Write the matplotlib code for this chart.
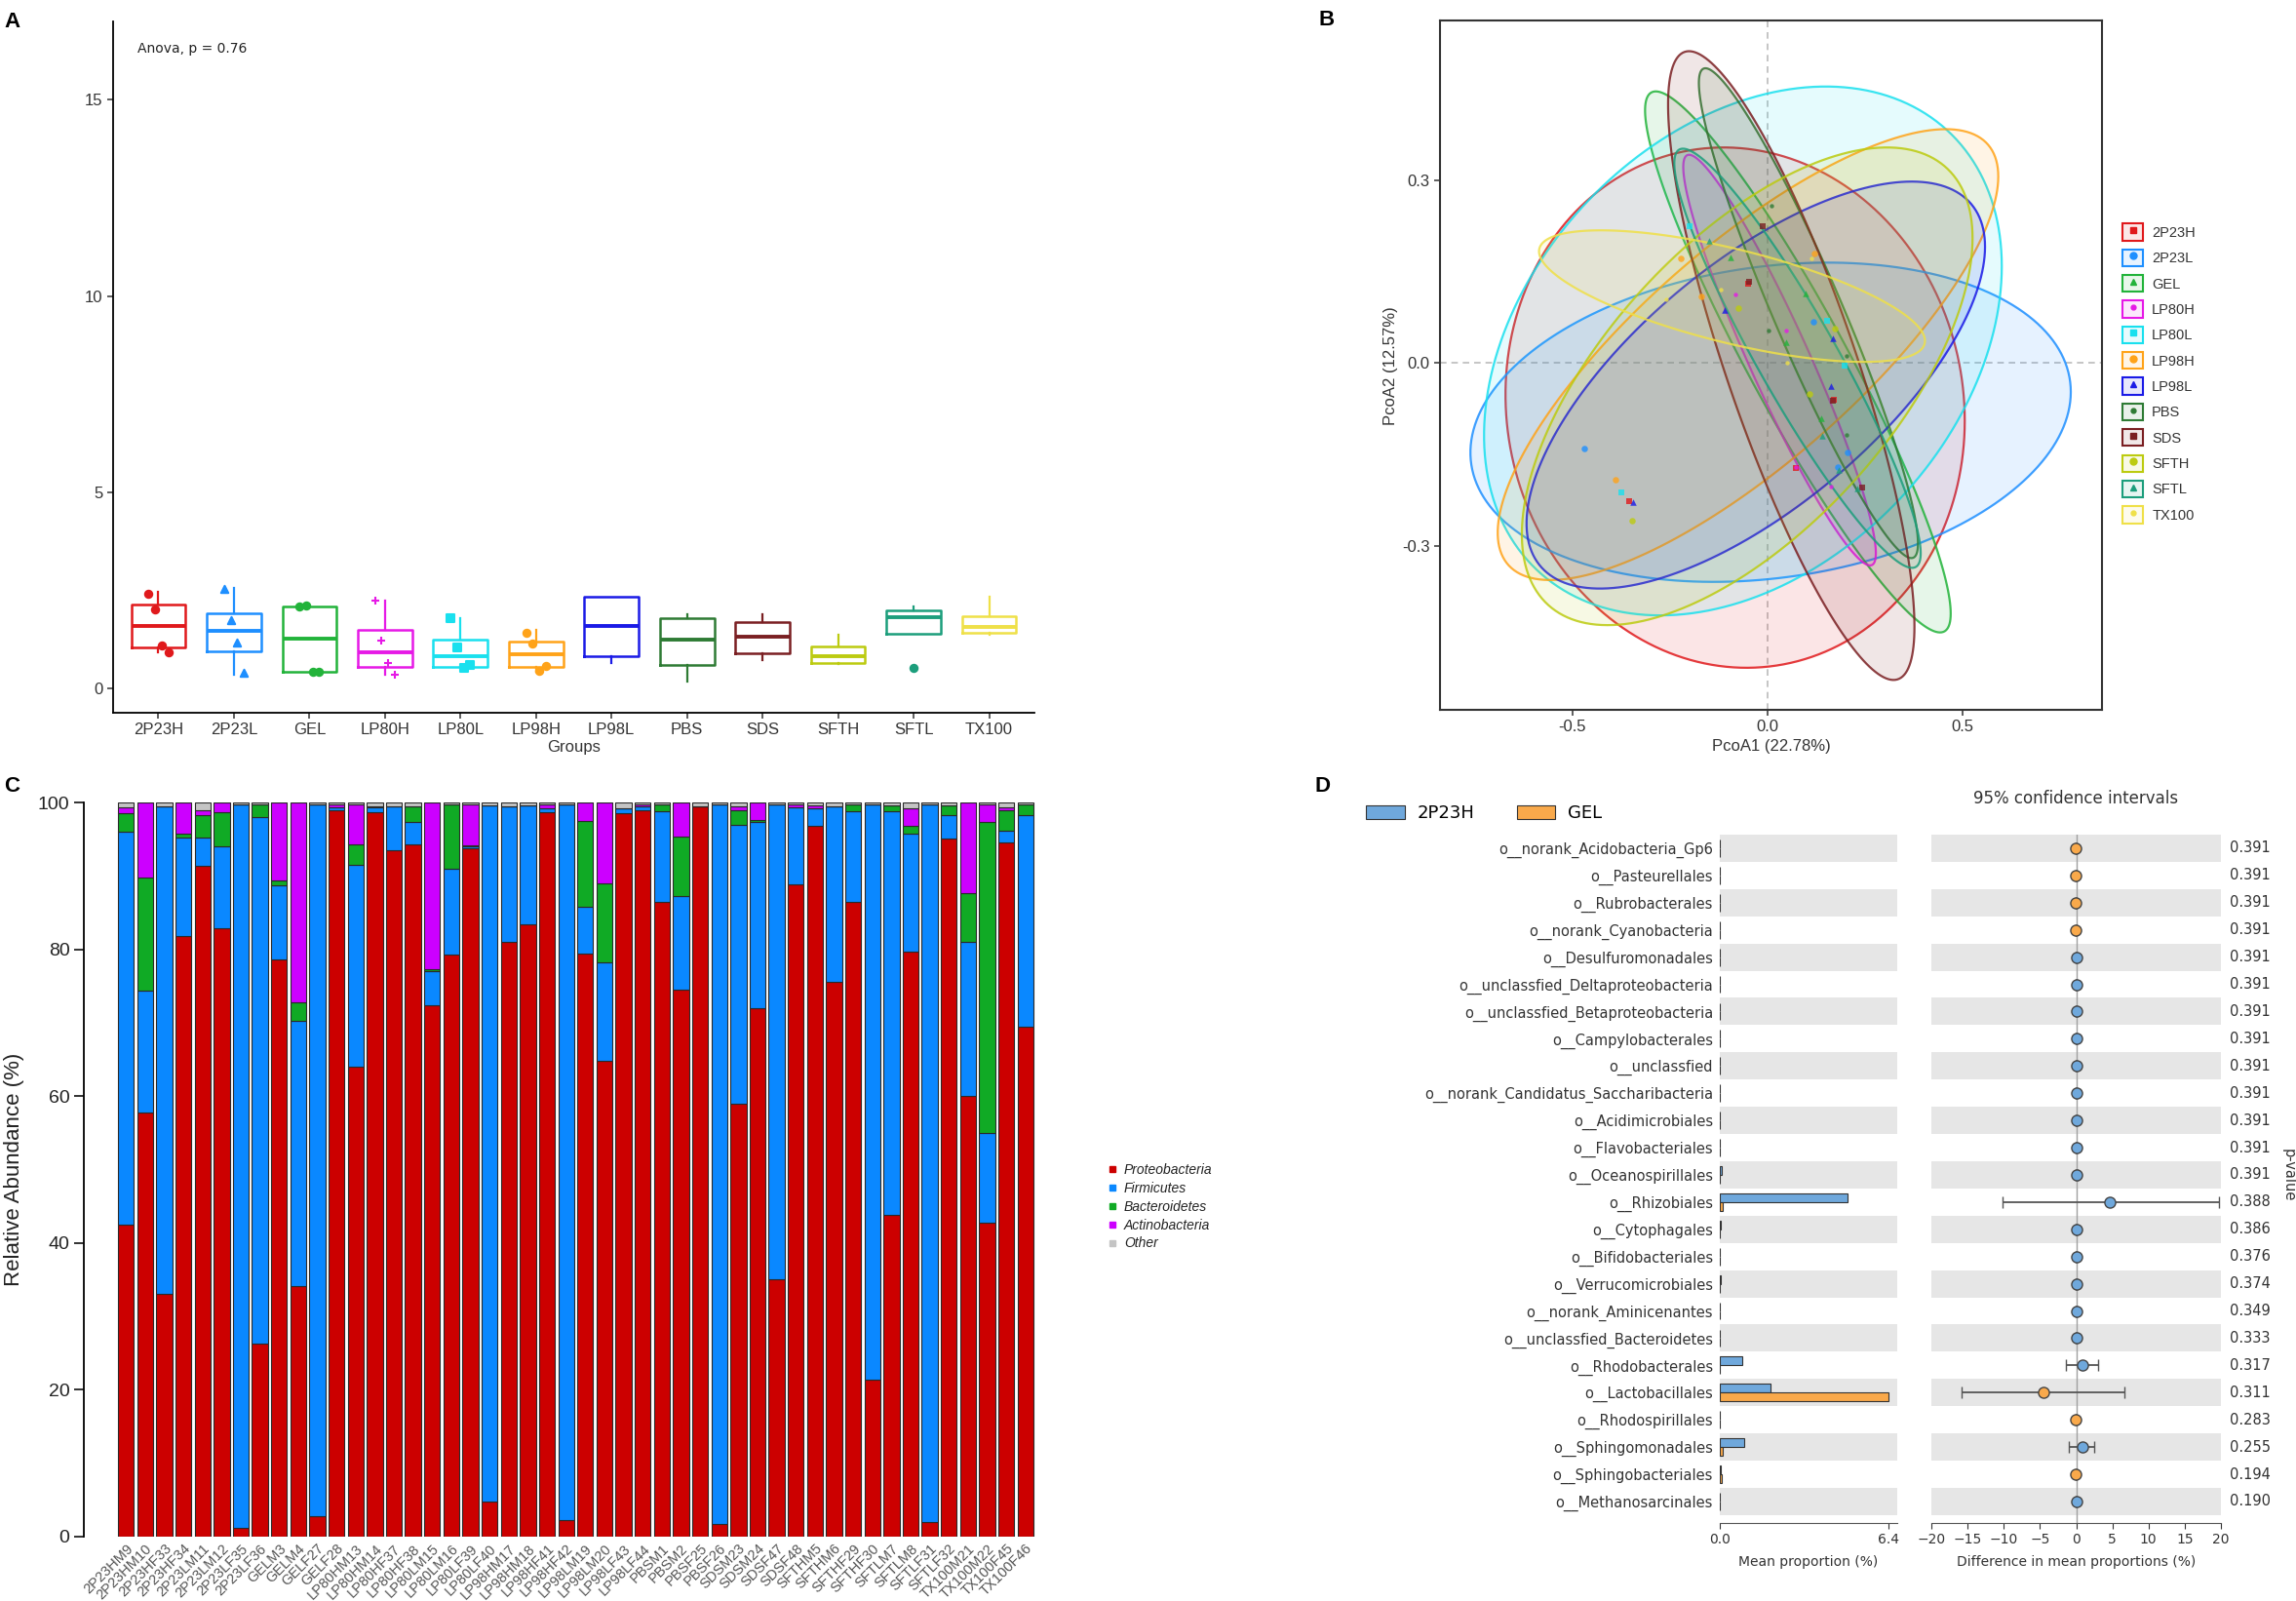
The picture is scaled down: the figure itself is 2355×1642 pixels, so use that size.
import numpy as np
import matplotlib
matplotlib.use('Agg')
import matplotlib.pyplot as plt
from matplotlib.patches import Patch
from matplotlib.lines import Line2D
from matplotlib.legend_handler import HandlerTuple
from matplotlib.colors import to_rgba

# ---------------- data ----------------
groups = ['2P23H', '2P23L', 'GEL', 'LP80H', 'LP80L', 'LP98H',
          'LP98L', 'PBS', 'SDS', 'SFTH', 'SFTL', 'TX100']
group_colors = ['#E0191C', '#1E8FFF', '#22B33A', '#E619E6', '#19E0EE', '#FFA319',
                '#1A1AE6', '#2E7B34', '#7A1F22', '#BCCB10', '#1C9E7C', '#EFE048']
group_markers = ['s', 'o', '^', '.', 's', 'o', '^', '.', 's', 'o', '^', '.']
a_markers = ['o', '^', 'o', '+', 's', 'o', '^', 'o', 's', 'o', 'o', 'o']

# panel A box statistics
box_lo = [0.93, 0.36, 0.42, 0.34, 0.53, 0.42, 0.65, 0.17, 0.73, 0.63, 1.39, 1.37]
box_q1 = [1.05, 0.95, 0.42, 0.55, 0.56, 0.55, 0.83, 0.59, 0.90, 0.65, 1.39, 1.41]
box_med = [1.58, 1.46, 1.26, 0.93, 0.83, 0.87, 1.60, 1.25, 1.31, 0.83, 1.81, 1.56]
box_q3 = [2.13, 1.91, 2.08, 1.49, 1.24, 1.20, 2.34, 1.80, 1.69, 1.07, 1.98, 1.83]
box_hi = [2.45, 2.57, 2.12, 2.23, 1.80, 1.48, 2.34, 1.88, 1.88, 1.37, 2.08, 2.34]
a_points = [[2.40, 2.02, 1.10, 0.93], [2.53, 1.75, 1.18, 0.40], [2.08, 2.12, 0.43, 0.42],
            [2.23, 1.22, 0.65, 0.34], [1.80, 1.05, 0.53, 0.59], [1.43, 1.14, 0.45, 0.58],
            [], [], [], [], [0.53], []]

# panel B ordination
pc1_pts = [[-0.355, 0.073, 0.17, -0.05], [-0.47, 0.117, 0.206, 0.18],
           [-0.095, 0.097, 0.047, 0.139], [-0.083, 0.047, 0.073, 0.162],
           [-0.375, -0.2, 0.152, 0.198], [-0.39, -0.223, -0.17, 0.12],
           [-0.344, -0.109, 0.167, 0.162], [0.011, 0.003, 0.203, 0.203],
           [-0.012, -0.048, 0.167, 0.242], [-0.347, -0.075, 0.172, 0.108],
           [-0.15, 0.183, 0.23, 0.14], [-0.26, 0.112, -0.12, 0.05]]
pc2_pts = [[-0.226, -0.172, -0.06, 0.13], [-0.14, 0.068, -0.146, -0.17],
           [0.174, 0.114, 0.034, -0.09], [0.113, 0.054, -0.17, -0.202],
           [-0.212, 0.224, 0.07, -0.004], [-0.192, 0.172, 0.11, 0.18],
           [-0.228, 0.087, 0.04, -0.038], [0.258, 0.054, 0.012, -0.118],
           [0.224, 0.134, -0.062, -0.204], [-0.258, 0.09, 0.056, -0.05],
           [0.2, -0.176, -0.206, -0.12], [0.104, 0.172, 0.12, 0.0]]
ell_cx = [-0.083, 0.008, 0.078, 0.031, -0.063, -0.05, -0.03, 0.105, 0.061, -0.052, 0.077, -0.091]
ell_cy = [-0.073, -0.097, 0.002, 0.005, 0.02, 0.014, -0.036, 0.082, -0.004, -0.038, 0.008, 0.110]
ell_hx = [0.589, 0.770, 0.392, 0.247, 0.664, 0.642, 0.588, 0.281, 0.316, 0.578, 0.316, 0.495]
ell_hy = [0.427, 0.262, 0.444, 0.337, 0.434, 0.370, 0.334, 0.402, 0.516, 0.392, 0.344, 0.108]
ell_rho = [-0.05, 0.19, -0.93, -0.94, 0.32, 0.79, 0.68, -0.94, -0.83, 0.62, -0.93, -0.68]

# panel C phylum composition
samples = ['2P23HM9', '2P23HM10', '2P23HF33', '2P23HF34', '2P23LM11', '2P23LM12',
           '2P23LF35', '2P23LF36', 'GELM3', 'GELM4', 'GELF27', 'GELF28',
           'LP80HM13', 'LP80HM14', 'LP80HF37', 'LP80HF38', 'LP80LM15', 'LP80LM16',
           'LP80LF39', 'LP80LF40', 'LP98HM17', 'LP98HM18', 'LP98HF41', 'LP98HF42',
           'LP98LM19', 'LP98LM20', 'LP98LF43', 'LP98LF44', 'PBSM1', 'PBSM2',
           'PBSF25', 'PBSF26', 'SDSM23', 'SDSM24', 'SDSF47', 'SDSF48',
           'SFTHM5', 'SFTHM6', 'SFTHF29', 'SFTHF30', 'SFTLM7', 'SFTLM8',
           'SFTLF31', 'SFTLF32', 'TX100M21', 'TX100M22', 'TX100F45', 'TX100F46']
proteo = [42.5, 57.8, 33.0, 81.8, 91.3, 82.8, 1.2, 26.2, 78.6, 34.1, 2.7, 99.0,
          64.0, 98.7, 93.5, 94.3, 72.3, 79.3, 93.8, 4.7, 81.0, 83.4, 98.7, 2.2,
          79.4, 64.8, 98.6, 99.0, 86.5, 74.5, 99.5, 1.7, 59.0, 71.9, 35.0, 88.8,
          96.8, 75.5, 86.5, 21.4, 43.8, 79.7, 2.0, 95.1, 60.0, 42.7, 94.5, 69.4]
firmi = [53.5, 16.5, 66.5, 13.4, 3.9, 11.2, 98.5, 71.8, 10.1, 36.1, 97.1, 0.3,
         27.5, 0.6, 6.0, 3.1, 4.7, 11.7, 0.2, 94.9, 18.5, 16.2, 0.5, 97.6,
         6.4, 13.4, 0.6, 0.5, 12.3, 12.8, 0.0, 98.1, 38.0, 25.4, 64.8, 10.5,
         2.4, 24.0, 12.3, 78.4, 55.0, 16.0, 97.8, 3.2, 21.0, 12.3, 1.7, 28.9]
bacte = [2.5, 15.5, 0.0, 0.6, 3.1, 4.7, 0.0, 1.7, 0.7, 2.6, 0.0, 0.0,
         2.8, 0.2, 0.0, 2.1, 0.3, 8.8, 0.2, 0.0, 0.0, 0.0, 0.0, 0.0,
         11.7, 10.8, 0.0, 0.0, 1.0, 8.0, 0.0, 0.0, 2.0, 0.3, 0.0, 0.0,
         0.0, 0.0, 1.0, 0.0, 0.8, 1.1, 0.0, 1.3, 6.6, 42.3, 2.8, 1.5]
actino = [0.8, 10.2, 0.0, 4.2, 0.7, 1.3, 0.0, 0.0, 10.6, 27.2, 0.0, 0.5,
          5.5, 0.0, 0.0, 0.0, 22.7, 0.0, 5.6, 0.0, 0.0, 0.0, 0.6, 0.0,
          2.5, 11.0, 0.0, 0.3, 0.0, 4.7, 0.0, 0.0, 0.5, 2.4, 0.0, 0.4,
          0.4, 0.0, 0.0, 0.0, 0.0, 2.4, 0.0, 0.0, 12.4, 2.5, 0.4, 0.0]
other = [0.7, 0.0, 0.5, 0.0, 1.0, 0.0, 0.3, 0.3, 0.0, 0.0, 0.2, 0.2,
         0.2, 0.5, 0.5, 0.5, 0.0, 0.2, 0.2, 0.4, 0.5, 0.4, 0.2, 0.2,
         0.0, 0.0, 0.8, 0.2, 0.2, 0.0, 0.5, 0.2, 0.5, 0.0, 0.2, 0.3,
         0.4, 0.5, 0.2, 0.2, 0.4, 0.8, 0.2, 0.4, 0.0, 0.2, 0.6, 0.2]
phyla = ['Proteobacteria', 'Firmicutes', 'Bacteroidetes', 'Actinobacteria', 'Other']
phyla_colors = ['#CC0000', '#0A88FF', '#10AA25', '#CC00FF', '#C4C4C4']

# panel D extended error bar
taxa = ['o__norank_Acidobacteria_Gp6', 'o__Pasteurellales', 'o__Rubrobacterales',
        'o__norank_Cyanobacteria', 'o__Desulfuromonadales', 'o__unclassfied_Deltaproteobacteria',
        'o__unclassfied_Betaproteobacteria', 'o__Campylobacterales', 'o__unclassfied',
        'o__norank_Candidatus_Saccharibacteria', 'o__Acidimicrobiales', 'o__Flavobacteriales',
        'o__Oceanospirillales', 'o__Rhizobiales', 'o__Cytophagales', 'o__Bifidobacteriales',
        'o__Verrucomicrobiales', 'o__norank_Aminicenantes', 'o__unclassfied_Bacteroidetes',
        'o__Rhodobacterales', 'o__Lactobacillales', 'o__Rhodospirillales',
        'o__Sphingomonadales', 'o__Sphingobacteriales', 'o__Methanosarcinales']
mean_2p23h = [0.0, 0.0, 0.0, 0.0, 0.01, 0.01, 0.01, 0.01, 0.01, 0.01, 0.01, 0.01,
              0.08, 4.84, 0.04, 0.01, 0.05, 0.01, 0.01, 0.86, 1.93, 0.0, 0.93, 0.04, 0.01]
mean_gel = [0.01, 0.01, 0.01, 0.01, 0.0, 0.0, 0.0, 0.0, 0.0, 0.0, 0.0, 0.0,
            0.0, 0.1, 0.0, 0.0, 0.0, 0.0, 0.0, 0.0, 6.4, 0.01, 0.1, 0.08, 0.0]
diff = [-0.01, -0.01, -0.01, -0.01, 0.01, 0.01, 0.01, 0.01, 0.01, 0.01, 0.01, 0.01,
        0.05, 4.67, 0.03, 0.01, 0.04, 0.01, 0.01, 0.88, -4.5, -0.01, 0.88, -0.04, 0.01]
ci_low = [-0.03, -0.03, -0.03, -0.03, -0.01, -0.01, -0.01, -0.01, -0.01, -0.01, -0.01, -0.01,
          -0.1, -10.2, -0.03, -0.01, -0.03, -0.01, -0.01, -1.4, -15.8, -0.03, -1.05, -0.12, -0.01]
ci_high = [0.01, 0.01, 0.01, 0.01, 0.03, 0.03, 0.03, 0.03, 0.03, 0.03, 0.03, 0.03,
           0.2, 19.7, 0.09, 0.03, 0.11, 0.03, 0.03, 3.0, 6.7, 0.01, 2.5, 0.04, 0.03]
pvals = ['0.391'] * 13 + ['0.388', '0.386', '0.376', '0.374', '0.349', '0.333',
                          '0.317', '0.311', '0.283', '0.255', '0.194', '0.190']
col_2p23h = '#6FA8DC'
col_gel = '#F9A94B'

W, H = 2355, 1642
fig = plt.figure(figsize=(W / 100, H / 100), dpi=100)
sans = ['Liberation Sans', 'DejaVu Sans']


def px_axes(left, top, right, bottom):
    return fig.add_axes([left / W, 1 - bottom / H, (right - left) / W, (bottom - top) / H])


def panel_a():
    ax = px_axes(116, 22, 1061, 731)
    stats = []
    for i, g in enumerate(groups):
        stats.append(dict(med=box_med[i], q1=box_q1[i], q3=box_q3[i],
                          whislo=box_lo[i], whishi=box_hi[i], label=g))
    pos = np.arange(1, len(groups) + 1)
    res = ax.bxp(stats, positions=pos, widths=0.72, showfliers=False, showcaps=False)
    for i, c in enumerate(group_colors):
        res['boxes'][i].set(color=c, linewidth=1.8)
        res['medians'][i].set(color=c, linewidth=2.8)
        res['whiskers'][2 * i].set(color=c, linewidth=1.6)
        res['whiskers'][2 * i + 1].set(color=c, linewidth=1.6)
        pts = a_points[i]
        if len(pts):
            offs = np.linspace(-0.13, 0.13, len(pts)) if len(pts) > 1 else [0.0]
            ax.scatter(pos[i] + np.array(offs), pts, color=c, marker=a_markers[i],
                       s=28, zorder=3, linewidths=1.5)
    ax.set_xlim(0.4, 12.6)
    ax.set_ylim(-0.62, 17.0)
    ax.set_yticks([0, 5, 10, 15])
    ax.set_xticks(pos)
    ax.set_xticklabels(groups)
    for s in ['top', 'right']:
        ax.spines[s].set_visible(False)
    for s in ['left', 'bottom']:
        ax.spines[s].set_linewidth(1.3)
    ax.tick_params(labelsize=12, colors='#333333', width=1.1, length=4)
    ax.set_xlabel('Groups', fontsize=12, color='#333333', labelpad=2)
    ax.text(0.72, 16.2, 'Anova, p = 0.76', fontsize=10, color='#222222')
    for lab in ax.get_xticklabels() + ax.get_yticklabels():
        lab.set_family(sans)
    ax.xaxis.label.set_family(sans)


def ellipse_xy(cx, cy, hx, hy, rho):
    t = np.linspace(0, 2 * np.pi, 200)
    x = cx + hx * np.cos(t)
    y = cy + hy * (rho * np.cos(t) + np.sqrt(1 - rho ** 2) * np.sin(t))
    return x, y


def panel_b():
    ax = px_axes(1477, 21.5, 2156, 728)
    ax.axvline(0, color='#BBBBBB', ls=(0, (4, 3)), lw=1.2, zorder=0)
    ax.axhline(0, color='#BBBBBB', ls=(0, (4, 3)), lw=1.2, zorder=0)
    for i, c in enumerate(group_colors):
        x, y = ellipse_xy(ell_cx[i], ell_cy[i], ell_hx[i], ell_hy[i], ell_rho[i])
        ax.fill(x, y, facecolor=to_rgba(c, 0.11), edgecolor=to_rgba(c, 0.85), lw=1.6)
    for i, c in enumerate(group_colors):
        ms = 22 if group_markers[i] != '.' else 40
        ax.scatter(pc1_pts[i], pc2_pts[i], color=c, marker=group_markers[i], s=ms,
                   zorder=4, alpha=0.8, linewidths=0)
    ax.set_xlim(-0.84, 0.858)
    ax.set_ylim(-0.569, 0.5616)
    ax.set_xticks([-0.5, 0.0, 0.5])
    ax.set_yticks([-0.3, 0.0, 0.3])
    ax.set_xticklabels(['-0.5', '0.0', '0.5'])
    ax.set_yticklabels(['-0.3', '0.0', '0.3'])
    for s in ax.spines.values():
        s.set_linewidth(1.5)
        s.set_color('#333333')
    ax.tick_params(labelsize=12, colors='#333333', width=1.1, length=4)
    ax.set_xlabel('PcoA1 (22.78%)', fontsize=12, color='#333333', labelpad=3)
    ax.set_ylabel('PcoA2 (12.57%)', fontsize=12, color='#333333', labelpad=3)
    handles = []
    for i, c in enumerate(group_colors):
        box = Patch(facecolor=to_rgba(c, 0.10), edgecolor=c, lw=1.5)
        mk = Line2D([], [], marker=group_markers[i], color=c, ls='',
                    markersize=5 if group_markers[i] != '.' else 7)
        handles.append((box, mk))
    leg = fig.legend(handles, groups, handler_map={tuple: HandlerTuple(ndivide=1)},
                     loc='upper left', bbox_to_anchor=(2170 / W, 1 - 222 / H),
                     frameon=False, fontsize=10.5, handlelength=1.45, handleheight=1.45,
                     labelspacing=0.62, handletextpad=0.6, borderpad=0)
    for t in leg.get_texts():
        t.set_color('#333333')
        t.set_family(sans)
    for lab in ax.get_xticklabels() + ax.get_yticklabels():
        lab.set_family(sans)
    ax.xaxis.label.set_family(sans)
    ax.yaxis.label.set_family(sans)


def panel_c():
    ax = px_axes(119.4, 823, 1061.6, 1575.6)
    x = np.arange(len(samples))
    bottom = np.zeros(len(samples))
    for vals, col, name in zip([proteo, firmi, bacte, actino, other], phyla_colors, phyla):
        ax.bar(x, vals, bottom=bottom, width=0.833, color=col, edgecolor='#2A2A2A',
               linewidth=0.8, label=name)
        bottom = bottom + np.array(vals)
    ax.set_xlim(-0.5, 47.5)
    ax.set_ylim(0, 100)
    for s in ['top', 'right', 'bottom']:
        ax.spines[s].set_visible(False)
    ax.spines['left'].set_position(('outward', 24))
    ax.spines['left'].set_linewidth(1.3)
    ax.set_yticks([0, 20, 40, 60, 80, 100])
    ax.tick_params(axis='y', labelsize=14, width=1.3, length=7, colors='#222222')
    ax.set_xticks(x)
    ax.set_xticklabels(samples, rotation=45, ha='right', rotation_mode='anchor',
                       fontsize=10.5, color='#555555')
    ax.tick_params(axis='x', length=0, pad=4)
    ax.set_ylabel('Relative Abundance (%)', fontsize=16, color='#222222', labelpad=10)
    handles = [Line2D([], [], marker='s', color=c, ls='', markersize=5) for c in phyla_colors]
    leg = fig.legend(handles, phyla, loc='upper left', bbox_to_anchor=(1128 / W, 1 - 1186 / H),
                     frameon=False, fontsize=10, handlelength=0.8, handletextpad=0.5,
                     labelspacing=0.35, borderpad=0)
    for t in leg.get_texts():
        t.set_style('italic')
        t.set_family(sans)
        t.set_color('#222222')
    for lab in ax.get_xticklabels() + ax.get_yticklabels():
        lab.set_family(sans)
    ax.yaxis.label.set_family(sans)


def panel_d():
    axl = px_axes(1764, 856, 1946, 1562)
    axr = px_axes(1981, 856, 2278, 1562)
    n = len(taxa)
    y = np.arange(n)
    for ax in (axl, axr):
        for k in range(0, n, 2):
            ax.axhspan(k - 0.5, k + 0.5, color='#E6E6E6', zorder=0, lw=0)
        ax.set_ylim(24.79, -0.5)
        for s in ['top', 'right', 'left']:
            ax.spines[s].set_visible(False)
        ax.spines['bottom'].set_color('#555555')
        ax.tick_params(axis='x', labelsize=10, colors='#333333', length=4)
    axl.barh(y - 0.16, mean_2p23h, height=0.32, color=col_2p23h, edgecolor='#333333', lw=0.8, zorder=2)
    axl.barh(y + 0.16, mean_gel, height=0.32, color=col_gel, edgecolor='#333333', lw=0.8, zorder=2)
    axl.set_xlim(0, 6.75)
    axl.set_xticks([0, 6.4])
    axl.set_xticklabels(['0.0', '6.4'])
    axl.set_yticks(y)
    axl.set_yticklabels(taxa, fontsize=10.5, color='#333333')
    axl.tick_params(axis='y', length=0, pad=5)
    axl.set_xlabel('Mean proportion (%)', fontsize=10, color='#333333', labelpad=6)

    axr.axvline(0, color='#A0A0A0', lw=1, zorder=1)
    for i in range(n):
        c = col_2p23h if diff[i] > 0 else col_gel
        axr.errorbar(diff[i], y[i], xerr=[[diff[i] - ci_low[i]], [ci_high[i] - diff[i]]],
                     fmt='o', color=c, ecolor='#555555', elinewidth=1.3, capsize=4,
                     markersize=8, markeredgecolor='#444444', markeredgewidth=1, zorder=3)
        axr.text(1.03, y[i], pvals[i], transform=axr.get_yaxis_transform(),
                 va='center', ha='left', fontsize=10.5, color='#333333')
    axr.set_xlim(-20, 20)
    axr.set_xticks(np.arange(-20, 21, 5))
    axr.set_yticks([])
    axr.set_xlabel('Difference in mean proportions (%)', fontsize=10, color='#333333', labelpad=6)
    axr.text(0.5, 1.04, '95% confidence intervals', transform=axr.transAxes,
             ha='center', va='bottom', fontsize=12, color='#333333')
    fig.text(2347 / W, 1 - 1205 / H, 'p-value', rotation=270, ha='center', va='center',
             fontsize=10.5, color='#333333')
    handles = [Patch(facecolor=col_2p23h, edgecolor='#333333', lw=0.8),
               Patch(facecolor=col_gel, edgecolor='#333333', lw=0.8)]
    fig.legend(handles, ['2P23H', 'GEL'], ncol=2, loc='center left',
               bbox_to_anchor=(1392 / W, 1 - 834 / H), frameon=False, fontsize=13,
               handlelength=2.2, handleheight=0.8, handletextpad=0.7,
               columnspacing=2.4, borderpad=0)


panel_a()
panel_b()
panel_c()
panel_d()

for lab, (px, py) in zip('ABCD', [(4, 12), (1352, 10), (4, 796), (1348, 796)]):
    fig.text(px / W, 1 - py / H, lab, fontsize=16, fontweight='bold', va='top', ha='left',
             family=sans)

fig.savefig('out.png', dpi=100)
